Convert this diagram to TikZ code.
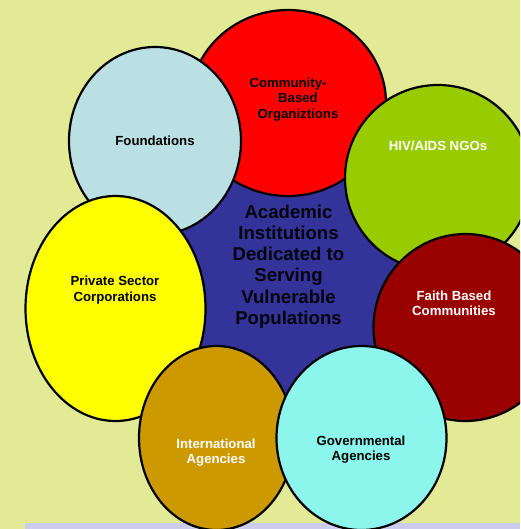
\documentclass[tikz,border=0pt]{standalone}
\usepackage{fontspec}
\setmainfont{Liberation Sans}
\usetikzlibrary{shapes.geometric}
\definecolor{bgc}{HTML}{E2EA96}
\definecolor{stripc}{HTML}{CCCCEE}
\definecolor{blobblue}{HTML}{333399}
\definecolor{blobred}{HTML}{FF0000}
\definecolor{blobyellow}{HTML}{FFFF00}
\definecolor{blobgreen}{HTML}{99CC00}
\definecolor{blobdark}{HTML}{990000}
\definecolor{blobgold}{HTML}{CC9900}
\definecolor{blobaqua}{HTML}{8CF5EC}
\definecolor{blobpale}{HTML}{BBE0E3}
\tikzset{
  blob/.style={ellipse,draw=black,line width=2.2pt,inner sep=0pt,outer sep=0pt},
  lab/.style={font=\bfseries\fontsize{13.2}{15.5}\selectfont,align=center,inner sep=0pt},
}
\begin{document}
\begin{tikzpicture}[x=1pt,y=-1pt]
\useasboundingbox (0,0) rectangle (520,529);
\fill[bgc] (0,0) rectangle (520,529);
\fill[stripc] (25,523) rectangle (520,529);
\begin{scope}
\clip (0,0) rectangle (520,529);
\node[ellipse,fill=blobblue,minimum width=250pt,minimum height=250pt,inner sep=0pt] (core) at (288,290) {};
\node[blob,fill=blobred,minimum width=196pt,minimum height=186pt] (cbo) at (288,103) {};
\node[blob,fill=blobgreen,minimum width=186pt,minimum height=186pt] (hiv) at (438,178) {};
\node[blob,fill=blobpale,minimum width=172pt,minimum height=188pt] (fnd) at (155,141) {};
\node[blob,fill=blobdark,minimum width=184pt,minimum height=187pt] (fth) at (465.5,327.5) {};
\node[blob,fill=blobyellow,minimum width=180pt,minimum height=225pt] (psc) at (115.5,308.5) {};
\node[blob,fill=blobgold,minimum width=155pt,minimum height=184pt] (intl) at (216.5,438) {};
\node[blob,fill=blobaqua,minimum width=170pt,minimum height=184pt] (gov) at (361.5,438) {};
\end{scope}
\node[font=\bfseries\fontsize{18.6}{21.2}\selectfont,align=center,inner sep=0pt,text=black!92!blobblue] (coret) at (288.5,266.5) {Academic\\Institutions\\Dedicated to\\Serving\\Vulnerable\\Populations};
\node[lab] (t1) at (298,99.5) {Community-\hspace*{20pt}\\Based\hspace*{4pt}\\Organiztions};
\node[lab,text=white] (t2) at (438,146) {HIV/AIDS NGOs};
\node[lab] (t3) at (155,141) {Foundations};
\node[lab,text=white] (t4) at (454,303.5) {Faith Based\\Communities};
\node[lab] (t5) at (115,290) {Private Sector\\Corporations};
\node[lab,text=white] (t6) at (216,452.5) {International\\Agencies};
\node[lab] (t7) at (361,449.5) {Governmental\\Agencies};
\end{tikzpicture}
\end{document}
